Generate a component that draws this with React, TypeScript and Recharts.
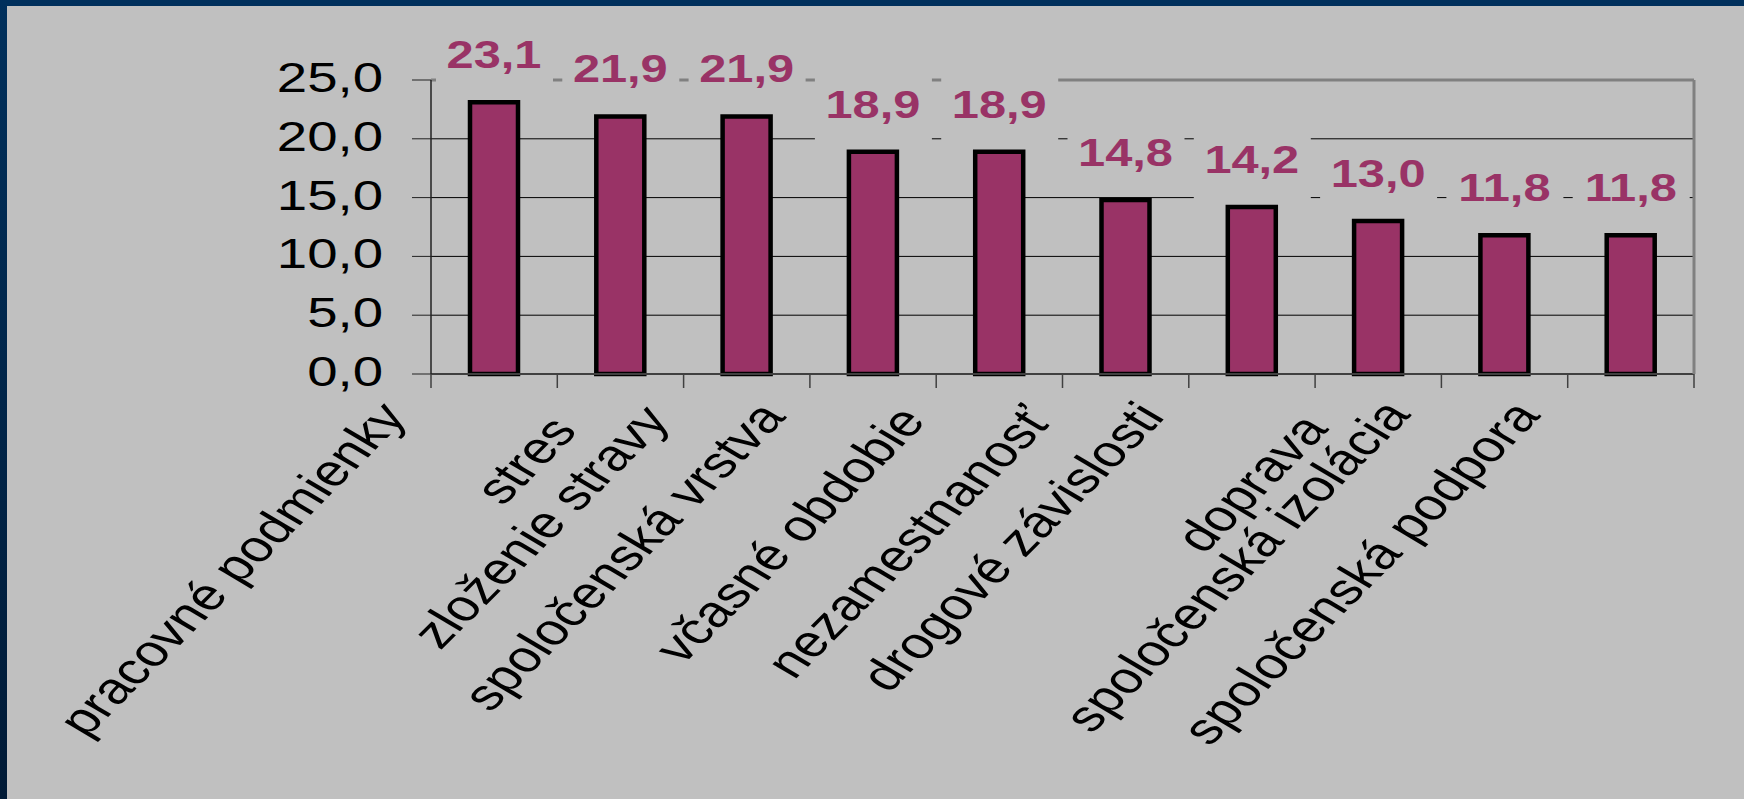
import React from "react";
import {
  BarChart,
  Bar,
  XAxis,
  YAxis,
  CartesianGrid,
  ReferenceLine,
  LabelList,
} from "recharts";

const categories = [
  "pracovné podmienky",
  "stres",
  "zloženie stravy",
  "spoločenská vrstva",
  "včasné obdobie",
  "nezamestnanosť",
  "drogové závislosti",
  "doprava",
  "spoločenská izolácia",
  "spoločenská podpora",
];
const values = [23.1, 21.9, 21.9, 18.9, 18.9, 14.8, 14.2, 13.0, 11.8, 11.8];
const yTicks = [0, 5, 10, 15, 20, 25];

const data = categories.map((name, i) => ({ name, value: values[i] }));

// layout
const W = 1744;
const H = 799;
const PLOT_LEFT = 431;
const PLOT_RIGHT = 1694;
const PLOT_TOP = 80;
const PLOT_BOTTOM = 374;
const BAND = (PLOT_RIGHT - PLOT_LEFT) / categories.length;
const STRETCH = 1.3; // the original slide is stretched sideways
const FONT = '"Liberation Sans", Arial, sans-serif';

const fmt = (v: number) => v.toFixed(1).replace(".", ",");

const YTick = (props: any) => {
  const { x, y, payload } = props;
  return (
    <text
      transform={`translate(${x},${y}) scale(${STRETCH},1)`}
      textAnchor="end"
      dy={12}
      fontSize={42}
      fontFamily={FONT}
      fill="#000"
    >
      {fmt(payload.value)}
    </text>
  );
};

const XTick = (props: any) => {
  const { x, payload, index } = props;
  const left = x - BAND / 2;
  // longer labels sit a little further left, as in the original
  const extra = String(payload.value).length - 7;
  const ax = left - 18 - 3.4 * extra;
  const ay = PLOT_BOTTOM + 36 - 1.1 * extra;
  return (
    <g>
      <line x1={left} x2={left} y1={PLOT_BOTTOM} y2={PLOT_BOTTOM + 14} stroke="#404040" strokeWidth={1.5} />
      {index === categories.length - 1 && (
        <line x1={x + BAND / 2} x2={x + BAND / 2} y1={PLOT_BOTTOM} y2={PLOT_BOTTOM + 14} stroke="#404040" strokeWidth={1.5} />
      )}
      <text
        transform={`translate(${ax},${ay}) scale(${STRETCH},1) rotate(-52.4)`}
        textAnchor="end"
        dy="0.72em"
        fontSize={44}
        fontFamily={FONT}
        fill="#000"
      >
        {payload.value}
      </text>
    </g>
  );
};

const ValueLabel = (props: any) => {
  const { x, y, width, value } = props;
  const cx = x + width / 2;
  const base = y - 34;
  return (
    <g>
      <rect x={cx - 58} y={base - 47} width={117} height={75} fill="#c0c0c0" />
      <text
        transform={`translate(${cx},${base}) scale(1.25,1)`}
        textAnchor="middle"
        fontSize={39}
        fontWeight="bold"
        fontFamily={FONT}
        fill="#993366"
      >
        {fmt(value)}
      </text>
    </g>
  );
};

const App: React.FC = () => {
  return (
    <div
      style={{
        position: "absolute",
        left: 0,
        top: 0,
        width: W,
        height: H,
        background: "#c0c0c0",
        overflow: "hidden",
        fontFamily: FONT,
      }}
    >
      <BarChart
        width={W}
        height={H}
        data={data}
        margin={{ top: PLOT_TOP, right: 0, left: 0, bottom: 0 }}
        style={{ position: "absolute", left: 0, top: 0 }}
      >
        <CartesianGrid vertical={false} stroke="#000" strokeWidth={1} />
        <XAxis
          dataKey="name"
          height={H - PLOT_BOTTOM}
          interval={0}
          axisLine={{ stroke: "#404040", strokeWidth: 2 }}
          tickLine={false}
          tick={<XTick />}
        />
        <YAxis
          width={PLOT_LEFT}
          domain={[0, 25]}
          ticks={yTicks}
          tickSize={19}
          tickMargin={29}
          axisLine={{ stroke: "#222", strokeWidth: 1.5 }}
          tickLine={{ stroke: "#222", strokeWidth: 1 }}
          tick={<YTick />}
        />
        <YAxis
          yAxisId="right"
          orientation="right"
          width={W - PLOT_RIGHT}
          domain={[0, 25]}
          tick={false}
          tickLine={false}
          axisLine={{ stroke: "#808080", strokeWidth: 3 }}
        />
        <ReferenceLine y={25} stroke="#808080" strokeWidth={3} />
        <Bar
          dataKey="value"
          fill="#993366"
          stroke="#000"
          strokeWidth={4.5}
          barSize={48}
          isAnimationActive={false}
        >
          <LabelList dataKey="value" content={<ValueLabel />} />
        </Bar>
      </BarChart>
      <div style={{ position: "absolute", left: 0, top: 0, width: W, height: 6, background: "#00305c" }} />
      <div
        style={{
          position: "absolute",
          left: 0,
          top: 0,
          width: 7,
          height: H,
          background: "linear-gradient(#00305c, #001a36)",
        }}
      />
    </div>
  );
};

export default App;
